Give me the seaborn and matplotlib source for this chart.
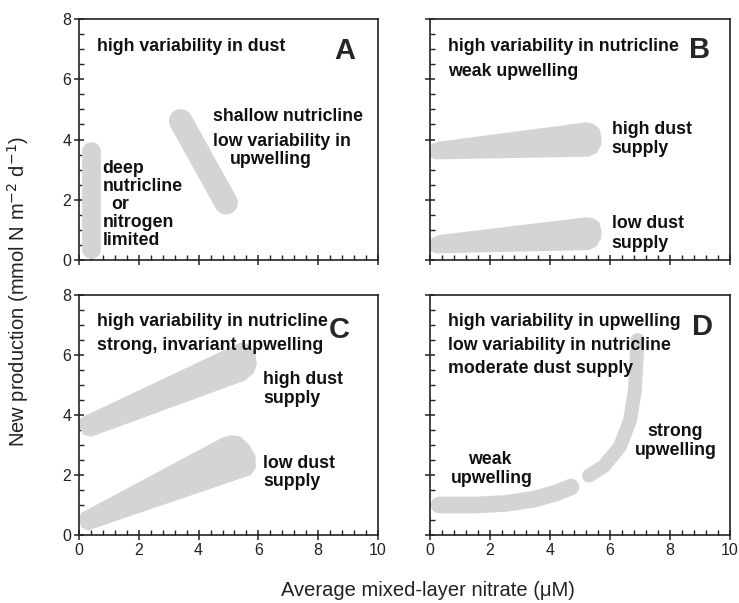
import numpy as np
import pandas as pd
import matplotlib
matplotlib.use("Agg")
import matplotlib.pyplot as plt
from matplotlib.ticker import MultipleLocator
import seaborn as sns

sns.set_style("ticks")
plt.rcParams['font.family'] = ['Liberation Sans', 'DejaVu Sans']

# ---------------- data ----------------
# Panel A: band centre lines (round-capped thick bands)
a_deep_x = [0.40, 0.40]
a_deep_y = [0.37, 3.62]
a_shallow_x = [3.40, 4.92]
a_shallow_y = [4.62, 1.90]

# Panel B: tapered band outlines
b_high_x = [0.00, 0.20, 5.30, 5.55, 5.70, 5.72, 5.65, 5.45, 5.20, 0.30, 0.05]
b_high_y = [3.40, 3.34, 3.43, 3.55, 3.80, 4.05, 4.35, 4.52, 4.57, 3.93, 3.85]
b_low_x = [0.00, 0.20, 5.30, 5.55, 5.70, 5.72, 5.65, 5.45, 5.20, 0.30, 0.05]
b_low_y = [0.30, 0.22, 0.33, 0.45, 0.70, 0.95, 1.25, 1.38, 1.42, 0.83, 0.72]

# Panel C: tapered band outlines
c_high_x = [0.00, 0.15, 0.40, 5.55, 5.85, 5.95, 5.90, 5.70, 5.40, 0.15, 0.02]
c_high_y = [3.60, 3.35, 3.27, 5.15, 5.40, 5.70, 6.05, 6.35, 6.42, 3.95, 3.85]
c_low_x = [0.00, 0.08, 0.30, 5.75, 5.92, 5.90, 5.70, 5.40, 5.10, 4.80, 0.10, 0.02]
c_low_y = [0.50, 0.25, 0.15, 2.00, 2.25, 2.65, 3.00, 3.28, 3.33, 3.25, 0.75, 0.65]

# Panel D: band centre lines
d_weak_x = [0.30, 1.50, 2.50, 3.50, 4.20, 4.70]
d_weak_y = [1.00, 1.00, 1.05, 1.20, 1.40, 1.60]
d_strong_x = [5.30, 5.78, 6.33, 6.67, 6.83, 6.89, 6.92]
d_strong_y = [1.98, 2.28, 2.94, 3.83, 4.83, 5.94, 6.50]

x_ticks = [0, 2, 4, 6, 8, 10]
y_ticks = [0, 2, 4, 6, 8]

band_color = "#d4d4d4"
txt = dict(fontsize=12.8, fontweight="bold", color="#111111", va="center", ha="left")

fig = plt.figure(figsize=(7.39, 6.03), dpi=100)
W, H = 739, 603
def add(l, t, r, b):
    return fig.add_axes([l / W, (H - b) / H, (r - l) / W, (b - t) / H])

axA = add(79, 19, 378, 260)
axB = add(430, 19, 730, 260)
axC = add(79, 295, 378, 535)
axD = add(430, 295, 730, 535)

for ax in (axA, axB, axC, axD):
    ax.set_xlim(0, 10)
    ax.set_ylim(0, 8)
    ax.set_xticks(x_ticks)
    ax.set_yticks(y_ticks)
    ax.xaxis.set_minor_locator(MultipleLocator(0.4))
    ax.yaxis.set_minor_locator(MultipleLocator(0.5))
    ax.tick_params(which="major", direction="inout", length=7, width=1.1,
                   labelsize=11.5, color="#222222", labelcolor="#222222", pad=2)
    ax.tick_params(which="minor", direction="in", length=3.5, width=1.0, color="#222222")
    for s in ax.spines.values():
        s.set_linewidth(1.2)
        s.set_color("#222222")
    ax.set_xlabel("")
    ax.set_ylabel("")

for ax in (axA, axB):
    ax.tick_params(labelbottom=False)
for ax in (axB, axD):
    ax.tick_params(labelleft=False)

def band(ax, x, y, lw):
    sns.lineplot(x=x, y=y, ax=ax, sort=False, estimator=None, color=band_color,
                 linewidth=lw, solid_capstyle="round", solid_joinstyle="round", zorder=2)

# Panel A
band(axA, a_deep_x, a_deep_y, 13.5)
band(axA, a_shallow_x, a_shallow_y, 17)
axA.text(0.59, 7.09, "high variability in dust", **txt)
axA.text(4.49, 4.76, "shallow nutricline", **txt)
axA.text(4.49, 3.93, "low variability in", **txt)
axA.text(5.05, 3.35, "upwelling", **txt)
axA.text(0.79, 3.05, "deep", **txt)
axA.text(0.79, 2.44, "nutricline", **txt)
axA.text(1.09, 1.83, "or", **txt)
axA.text(0.79, 1.24, "nitrogen", **txt)
axA.text(0.79, 0.66, "limited", **txt)
axA.text(8.9, 6.95, "A", fontsize=21, fontweight="bold", ha="center", va="center")

# Panel B
axB.fill(b_high_x, b_high_y, color=band_color, lw=0, zorder=2)
axB.fill(b_low_x, b_low_y, color=band_color, lw=0, zorder=2)
axB.text(0.61, 7.09, "high variability in nutricline", **txt)
axB.text(0.61, 6.26, "weak upwelling", **txt)
axB.text(6.06, 4.32, "high dust", **txt)
axB.text(6.06, 3.71, "supply", **txt)
axB.text(6.06, 1.22, "low dust", **txt)
axB.text(6.06, 0.55, "supply", **txt)
axB.text(9.0, 6.98, "B", fontsize=21, fontweight="bold", ha="center", va="center")

# Panel C
axC.fill(c_high_x, c_high_y, color=band_color, lw=0, zorder=2)
axC.fill(c_low_x, c_low_y, color=band_color, lw=0, zorder=2)
axC.text(0.59, 7.11, "high variability in nutricline", **txt)
axC.text(0.59, 6.33, "strong, invariant upwelling", **txt)
axC.text(6.16, 5.17, "high dust", **txt)
axC.text(6.16, 4.56, "supply", **txt)
axC.text(6.16, 2.39, "low dust", **txt)
axC.text(6.16, 1.78, "supply", **txt)
axC.text(8.7, 6.83, "C", fontsize=21, fontweight="bold", ha="center", va="center")

# Panel D
band(axD, d_weak_x, d_weak_y, 12)
band(axD, d_strong_x, d_strong_y, 10)
axD.text(0.61, 7.11, "high variability in upwelling", **txt)
axD.text(0.61, 6.33, "low variability in nutricline", **txt)
axD.text(0.61, 5.56, "moderate dust supply", **txt)
tc = dict(txt); tc["ha"] = "center"
axD.text(8.17, 3.44, "strong", **tc)
axD.text(8.2, 2.83, "upwelling", **tc)
axD.text(2.0, 2.5, "weak", **tc)
axD.text(2.06, 1.89, "upwelling", **tc)
axD.text(9.1, 6.94, "D", fontsize=21, fontweight="bold", ha="center", va="center")

fig.text(18 / W, 1 - 292 / H, "New production (mmol N m$^{-2}$ d$^{-1}$)",
         rotation=90, ha="center", va="center", fontsize=14.5, color="#222222")
fig.text(428 / W, 1 - 591 / H, "Average mixed-layer nitrate (\u03bcM)",
         ha="center", va="center", fontsize=14.5, color="#222222")

fig.savefig("out.png", dpi=100)
